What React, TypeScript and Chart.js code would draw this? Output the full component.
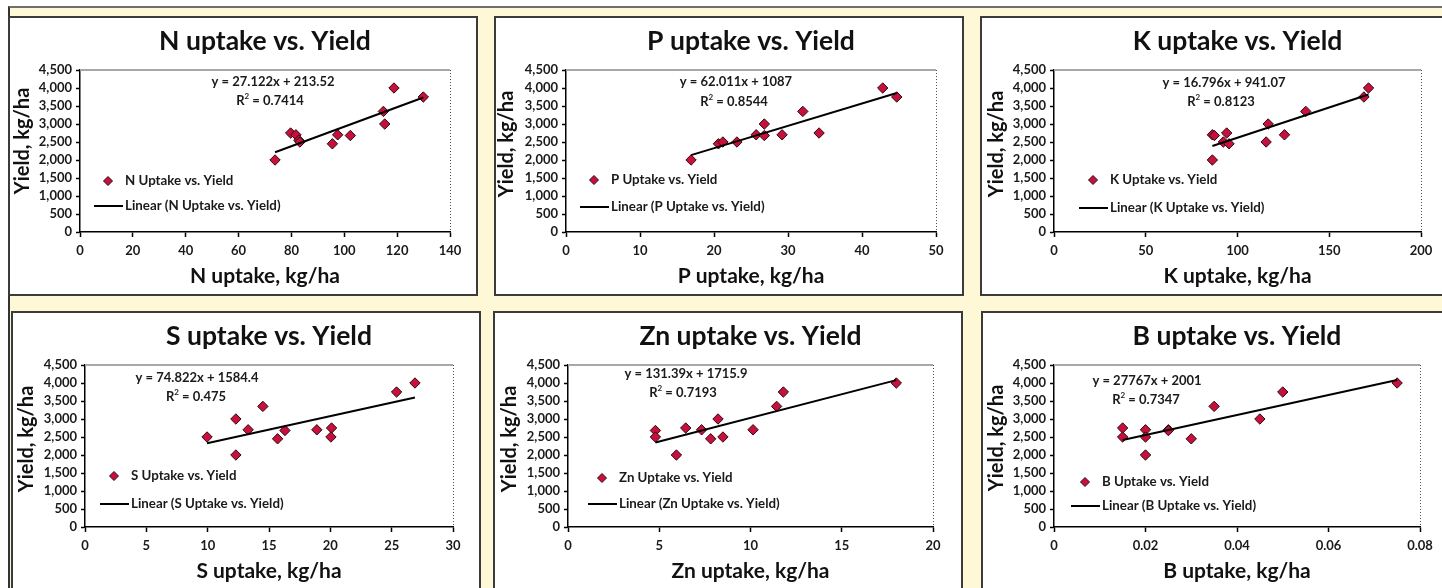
import React, { useEffect, useRef } from "react";
import { Chart, registerables } from "chart.js";

Chart.register(...registerables);

// ---------------- DATA ----------------
const nutrients = ["N", "P", "K", "S", "Zn", "B"];

const yieldAxisTitle = "Yield, kg/ha";
const yieldTickMax = 4500;
const yieldTickStep = 500;

const uptakeAxisMax = [140, 50, 200, 30, 20, 0.08];
const uptakeAxisStep = [20, 10, 50, 5, 5, 0.02];

const nUptake = [73.8, 79.7, 81.7, 82.8, 83.2, 95.5, 97.5, 102.3, 114.8, 115.3, 118.8, 129.9];
const nYield = [2000, 2750, 2700, 2550, 2500, 2450, 2700, 2680, 3350, 3000, 4000, 3750];

const pUptake = [16.9, 20.6, 21.2, 23.1, 25.7, 26.8, 26.8, 29.2, 32.0, 34.2, 42.8, 44.7];
const pYield = [2000, 2450, 2500, 2500, 2700, 3000, 2680, 2700, 3350, 2750, 4000, 3750];

const kUptake = [86.3, 86.3, 87.4, 94.1, 92.3, 95.4, 116.7, 115.6, 125.6, 137.2, 168.9, 171.4];
const kYield = [2000, 2700, 2680, 2750, 2500, 2450, 3000, 2500, 2700, 3350, 3750, 4000];

const sUptake = [9.95, 12.3, 12.3, 13.3, 14.5, 15.7, 16.3, 18.9, 20.1, 20.05, 25.4, 26.9];
const sYield = [2500, 3000, 2000, 2700, 3350, 2450, 2680, 2700, 2750, 2500, 3750, 4000];

const znUptake = [4.79, 4.79, 5.94, 6.45, 7.32, 7.82, 8.22, 8.49, 10.14, 11.43, 11.8, 17.99];
const znYield = [2680, 2500, 2000, 2750, 2700, 2450, 3000, 2500, 2700, 3350, 3750, 4000];

const bUptake = [0.015, 0.015, 0.02, 0.02, 0.02, 0.025, 0.025, 0.03, 0.035, 0.045, 0.05, 0.075];
const bYield = [2750, 2500, 2700, 2500, 2000, 2700, 2680, 2450, 3350, 3000, 3750, 4000];

const uptakes = [nUptake, pUptake, kUptake, sUptake, znUptake, bUptake];
const yields = [nYield, pYield, kYield, sYield, znYield, bYield];

// Linear trendline equations as printed on the charts
const trendSlope = [27.122, 62.011, 16.796, 74.822, 131.39, 27767];
const trendIntercept = [213.52, 1087, 941.07, 1584.4, 1715.9, 2001];
const rSquared = [0.7414, 0.8544, 0.8123, 0.475, 0.7193, 0.7347];

// ---------------- LAYOUT / STYLE ----------------
const PANEL_W = 470;
const PANEL_H = 280;
const BORDER = 2;
const PLOT_TOP = 52; // relative to canvas
const PLOT_H = 162;
const X_AXIS_H = 57;

const PANEL_POS = [
  { left: 8, top: 16, yW: 70, plotW: 370, eq: [193, 12], r2: [190, 31], leg: [14, 111, 136], yt: [13, -10] },
  { left: 494, top: 16, yW: 70, plotW: 370, eq: [170, 12], r2: [168, 32], leg: [14, 110, 137], yt: [11, -7] },
  { left: 980, top: 16, yW: 72, plotW: 367, eq: [170, 13], r2: [167, 32], leg: [25, 110, 138], yt: [15, -7] },
  { left: 11, top: 311, yW: 72, plotW: 368, eq: [112, 13], r2: [111, 32], leg: [15, 111, 139], yt: [14, -7] },
  { left: 493, top: 311, yW: 73, plotW: 365, eq: [118, 9], r2: [115, 28], leg: [20, 113, 139], yt: [15, -7] },
  { left: 981, top: 311, yW: 71, plotW: 366, eq: [93, 16], r2: [92, 35], leg: [17, 117, 141], yt: [14, -8] },
];

const FONT = "Lato, 'Open Sans', sans-serif";
const TEXT = "#1a1a1a";
const MARKER_FILL = "#C8103C";
const MARKER_EDGE = "#2a0a10";

function drawDiamond(ctx: CanvasRenderingContext2D, x: number, y: number, r: number) {
  ctx.beginPath();
  ctx.moveTo(x - r, y);
  ctx.lineTo(x, y - r);
  ctx.lineTo(x + r, y);
  ctx.lineTo(x, y + r);
  ctx.closePath();
  ctx.fillStyle = MARKER_FILL;
  ctx.fill();
  ctx.strokeStyle = MARKER_EDGE;
  ctx.lineWidth = 1;
  ctx.stroke();
}

const overlayPlugin = {
  id: "overlay",
  beforeDatasetsDraw(chart: any) {
    const { ctx, chartArea: a } = chart;
    ctx.save();
    ctx.strokeStyle = "#a8a8a8";
    ctx.lineWidth = 2;
    ctx.beginPath();
    ctx.moveTo(a.left, a.top);
    ctx.lineTo(a.right, a.top);
    ctx.stroke();
    ctx.strokeStyle = "#555";
    ctx.lineWidth = 1;
    ctx.setLineDash([1, 2]);
    ctx.beginPath();
    ctx.moveTo(a.right + 0.5, a.top);
    ctx.lineTo(a.right + 0.5, a.bottom);
    ctx.stroke();
    ctx.restore();
  },
  afterDatasetsDraw(chart: any, _args: any, opts: any) {
    const { ctx, chartArea: a } = chart;
    ctx.save();

    // y-axis title (rotated)
    ctx.save();
    ctx.translate(opts.yt[0], (a.top + a.bottom) / 2 + opts.yt[1]);
    ctx.rotate(-Math.PI / 2);
    ctx.fillStyle = "#111";
    ctx.font = `bold 20px ${FONT}`;
    ctx.textAlign = "center";
    ctx.textBaseline = "middle";
    ctx.fillText(opts.yTitle, 0, 0);
    ctx.restore();

    // equation
    ctx.fillStyle = TEXT;
    ctx.textBaseline = "middle";
    ctx.textAlign = "center";
    ctx.font = `bold 13px ${FONT}`;
    ctx.fillText(opts.equation, a.left + opts.eq[0], a.top + opts.eq[1]);
    // R squared with superscript 2
    const main = ` = ${opts.r2}`;
    const wR = ctx.measureText("R").width;
    const wMain = ctx.measureText(main).width;
    ctx.font = `bold 8px ${FONT}`;
    const w2 = ctx.measureText("2").width;
    const cx = a.left + opts.r2pos[0];
    const cy = a.top + opts.r2pos[1];
    const x0 = cx - (wR + w2 + wMain) / 2;
    ctx.textAlign = "left";
    ctx.font = `bold 13px ${FONT}`;
    ctx.fillText("R", x0, cy);
    ctx.font = `bold 8px ${FONT}`;
    ctx.fillText("2", x0 + wR, cy - 5);
    ctx.font = `bold 13px ${FONT}`;
    ctx.fillText(main, x0 + wR + w2, cy);

    // legend
    const lx = a.left + opts.leg[0];
    const y1 = a.top + opts.leg[1];
    const y2 = a.top + opts.leg[2];
    const labels = chart.data.datasets.map((d: any) => d.label);
    drawDiamond(ctx, lx + 14, y1, 4.5);
    ctx.strokeStyle = "#000";
    ctx.lineWidth = 2;
    ctx.beginPath();
    ctx.moveTo(lx, y2);
    ctx.lineTo(lx + 29, y2);
    ctx.stroke();
    ctx.fillStyle = TEXT;
    ctx.font = `bold 13.3px ${FONT}`;
    ctx.textAlign = "left";
    ctx.fillText(labels[0], lx + 31, y1);
    ctx.fillText(labels[1], lx + 31, y2);
    ctx.restore();
  },
};

function buildConfig(i: number): any {
  const pos = PANEL_POS[i];
  const name = nutrients[i];
  const xs = uptakes[i];
  const ys = yields[i];
  const points = xs.map((x, k) => ({ x, y: ys[k] }));
  const xMin = Math.min(...xs);
  const xMax = Math.max(...xs);
  const trend = [
    { x: xMin, y: trendSlope[i] * xMin + trendIntercept[i] },
    { x: xMax, y: trendSlope[i] * xMax + trendIntercept[i] },
  ];
  const canvasW = PANEL_W - 2 * BORDER;
  const tickFont = { family: FONT, size: 13, weight: "bold" as const };
  const axisTitleFont = { family: FONT, size: 21, weight: "bold" as const };
  return {
    type: "scatter",
    data: {
      datasets: [
        {
          label: `${name} Uptake vs. Yield`,
          data: points,
          pointStyle: "rectRot",
          pointRadius: 5.2,
          backgroundColor: MARKER_FILL,
          borderColor: MARKER_EDGE,
          borderWidth: 1,
          order: 2,
        },
        {
          label: `Linear (${name} Uptake vs. Yield)`,
          data: trend,
          showLine: true,
          pointRadius: 0,
          borderColor: "#000",
          borderWidth: 2,
          order: 1,
        },
      ],
    },
    options: {
      animation: false,
      responsive: false,
      maintainAspectRatio: false,
      events: [],
      layout: {
        padding: {
          left: 0,
          top: 0,
          right: canvasW - pos.yW - pos.plotW,
          bottom: PANEL_H - 2 * BORDER - PLOT_TOP - PLOT_H - X_AXIS_H,
        },
      },
      plugins: {
        legend: { display: false },
        tooltip: { enabled: false },
        title: {
          display: true,
          text: `${name} uptake vs. Yield`,
          fullSize: false,
          color: "#111",
          font: { family: FONT, size: 26.5, weight: "bold", lineHeight: 1.2 },
          padding: { top: 8, bottom: 12.2 },
        },
        overlay: {
          equation: `y = ${trendSlope[i]}x + ${trendIntercept[i]}`,
          r2: `${rSquared[i]}`,
          eq: pos.eq,
          r2pos: pos.r2,
          leg: pos.leg,
          yt: pos.yt,
          yTitle: yieldAxisTitle,
        },
      },
      scales: {
        x: {
          type: "linear",
          min: 0,
          max: uptakeAxisMax[i],
          afterFit: (s: any) => {
            s.height = X_AXIS_H;
          },
          ticks: {
            stepSize: uptakeAxisStep[i],
            autoSkip: false,
            maxRotation: 0,
            font: tickFont,
            color: TEXT,
            padding: 6,
          },
          grid: {
            drawOnChartArea: false,
            drawTicks: true,
            tickLength: 5,
            tickColor: "#000",
            tickWidth: 1.5,
          },
          border: { display: true, color: "#000", width: 1.5 },
          title: {
            display: true,
            text: `${name} uptake, kg/ha`,
            color: "#111",
            font: axisTitleFont,
            padding: { top: 0, bottom: 0 },
          },
        },
        y: {
          type: "linear",
          min: 0,
          max: yieldTickMax,
          afterFit: (s: any) => {
            s.width = pos.yW;
          },
          ticks: {
            stepSize: yieldTickStep,
            autoSkip: false,
            font: tickFont,
            color: TEXT,
            padding: 4,
          },
          grid: {
            drawOnChartArea: false,
            drawTicks: true,
            tickLength: 4,
            tickColor: "#000",
            tickWidth: 1.5,
          },
          border: { display: true, color: "#000", width: 1.5 },
          title: { display: false, text: yieldAxisTitle },
        },
      },
    },
    plugins: [overlayPlugin],
  };
}

function Panel({ index }: { index: number }) {
  const ref = useRef<HTMLCanvasElement>(null);
  useEffect(() => {
    if (!ref.current) return;
    const chart = new Chart(ref.current, buildConfig(index));
    return () => chart.destroy();
  }, [index]);
  const pos = PANEL_POS[index];
  const cw = PANEL_W - 2 * BORDER;
  const ch = PANEL_H - 2 * BORDER;
  return (
    <div
      style={{
        position: "absolute",
        left: pos.left,
        top: pos.top,
        width: PANEL_W,
        height: PANEL_H,
        boxSizing: "border-box",
        border: `${BORDER}px solid #3b3b3b`,
        background: "#fff",
      }}
    >
      <canvas ref={ref} width={cw} height={ch} style={{ display: "block", width: cw, height: ch }} />
    </div>
  );
}

export default function App() {
  return (
    <div
      style={{
        position: "absolute",
        left: 0,
        top: 0,
        width: 1442,
        height: 588,
        overflow: "hidden",
        background: "#fff",
      }}
    >
      <div
        style={{
          position: "absolute",
          left: 8,
          top: 6,
          width: 1500,
          height: 650,
          background: "#FFF8D6",
          borderTop: "2px solid #6e6e6e",
          borderLeft: "2px solid #333",
        }}
      />
      {nutrients.map((_, i) => (
        <Panel key={i} index={i} />
      ))}
    </div>
  );
}
